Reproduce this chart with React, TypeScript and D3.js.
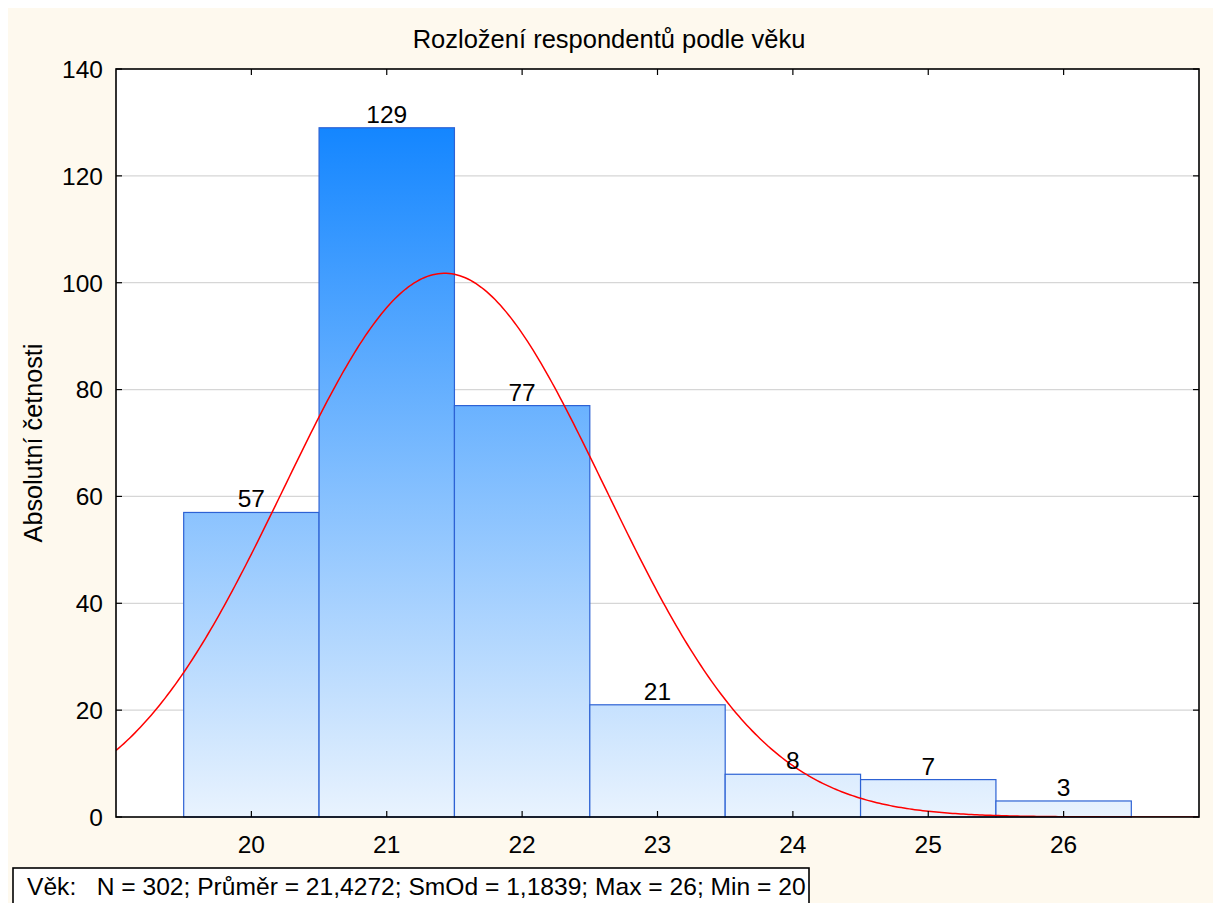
import React from "react";
import * as d3 from "d3";

const title = "Rozložení respondentů podle věku";
const yLabel = "Absolutní četnosti";
const ages = [20, 21, 22, 23, 24, 25, 26];
const counts = [57, 129, 77, 21, 8, 7, 3];
const yTicks = [0, 20, 40, 60, 80, 100, 120, 140];
const xDomain = [19, 27];
const yDomain = [0, 140];
const statN = 302;
const statMean = 21.4272;
const statSd = 1.1839;
const statMax = 26;
const statMin = 20;
const footer = "Věk:   N = 302; Průměr = 21,4272; SmOd = 1,1839; Max = 26; Min = 20";

const FONT = "'Liberation Sans', Arial, sans-serif";

export default function App() {
  const L = 116, T = 69, R = 1199, B = 817;
  const x = d3.scaleLinear().domain(xDomain).range([L, R]);
  const y = d3.scaleLinear().domain(yDomain).range([B, T]);

  const pdf = (v: number) =>
    (statN * 1) / (statSd * Math.sqrt(2 * Math.PI)) *
    Math.exp(-0.5 * ((v - statMean) / statSd) ** 2);
  const xs = d3.range(xDomain[0], xDomain[1] + 0.0001, 0.02);
  const line = d3
    .line<number>()
    .x((v) => x(v))
    .y((v) => y(pdf(v)))
    .curve(d3.curveLinear);

  const topY = y(d3.max(counts) as number);

  return (
    <svg
      width={1218}
      height={903}
      style={{ position: "absolute", left: 0, top: 0 }}
      fontFamily={FONT}
    >
      <defs>
        <linearGradient id="barGrad" gradientUnits="userSpaceOnUse" x1={0} y1={topY} x2={0} y2={B}>
          <stop offset="0" stopColor="#1486ff" />
          <stop offset="1" stopColor="#e9f3fe" />
        </linearGradient>
        <clipPath id="plotClip">
          <rect x={L} y={T} width={R - L} height={B - T} />
        </clipPath>
      </defs>
      <rect x={8} y={8} width={1205} height={895} fill="#fef9ee" />
      <rect x={L} y={T} width={R - L} height={B - T} fill="#ffffff" />

      {/* gridlines */}
      {yTicks.filter((t) => t > 0 && t < 140).map((t) => (
        <line key={"g" + t} x1={L} x2={R} y1={y(t)} y2={y(t)} stroke="#d6d6d6" strokeWidth={1.2} />
      ))}

      {/* bars */}
      {ages.map((a, i) => (
        <rect
          key={"b" + a}
          x={x(a - 0.5)}
          y={y(counts[i])}
          width={x(a + 0.5) - x(a - 0.5)}
          height={B - y(counts[i])}
          fill="url(#barGrad)"
          stroke="#2d62d4"
          strokeWidth={1.2}
        />
      ))}

      {/* normal curve */}
      <path d={line(xs) || ""} fill="none" stroke="#ff0000" strokeWidth={1.5} clipPath="url(#plotClip)" />

      {/* bar labels */}
      {ages.map((a, i) => (
        <text key={"l" + a} x={x(a)} y={y(counts[i]) - 5} textAnchor="middle" fontSize={24.5} fill="#000">
          {counts[i]}
        </text>
      ))}

      {/* frame */}
      <rect x={L} y={T} width={R - L} height={B - T} fill="none" stroke="#000" strokeWidth={1.6} />

      {/* y ticks */}
      {yTicks.map((t) => (
        <g key={"yt" + t}>
          <line x1={L} x2={L + 6} y1={y(t)} y2={y(t)} stroke="#000" strokeWidth={1.2} />
          <line x1={R - 6} x2={R} y1={y(t)} y2={y(t)} stroke="#000" strokeWidth={1.2} />
          <text x={103} y={y(t)} dy="0.36em" textAnchor="end" fontSize={24.5} fill="#000">
            {t}
          </text>
        </g>
      ))}

      {/* x ticks */}
      {ages.map((a) => (
        <g key={"xt" + a}>
          <line x1={x(a)} x2={x(a)} y1={B} y2={B - 6} stroke="#000" strokeWidth={1.2} />
          <line x1={x(a)} x2={x(a)} y1={T} y2={T + 6} stroke="#000" strokeWidth={1.2} />
          <text x={x(a)} y={853} textAnchor="middle" fontSize={24.5} fill="#000">
            {a}
          </text>
        </g>
      ))}

      {/* title */}
      <text x={609} y={48} textAnchor="middle" fontSize={25.5} fill="#000">
        {title}
      </text>

      {/* y label */}
      <text
        transform={`translate(42, 443) rotate(-90)`}
        textAnchor="middle"
        fontSize={25.2}
        fill="#000"
      >
        {yLabel}
      </text>

      {/* footer stats box */}
      <rect x={13} y={868} width={796} height={45} fill="#ffffff" stroke="#000" strokeWidth={1.6} />
      <text x={27} y={895} fontSize={24.6} fill="#000" style={{ whiteSpace: "pre" }} data-n={statN} data-max={statMax} data-min={statMin}>
        {footer}
      </text>
    </svg>
  );
}
